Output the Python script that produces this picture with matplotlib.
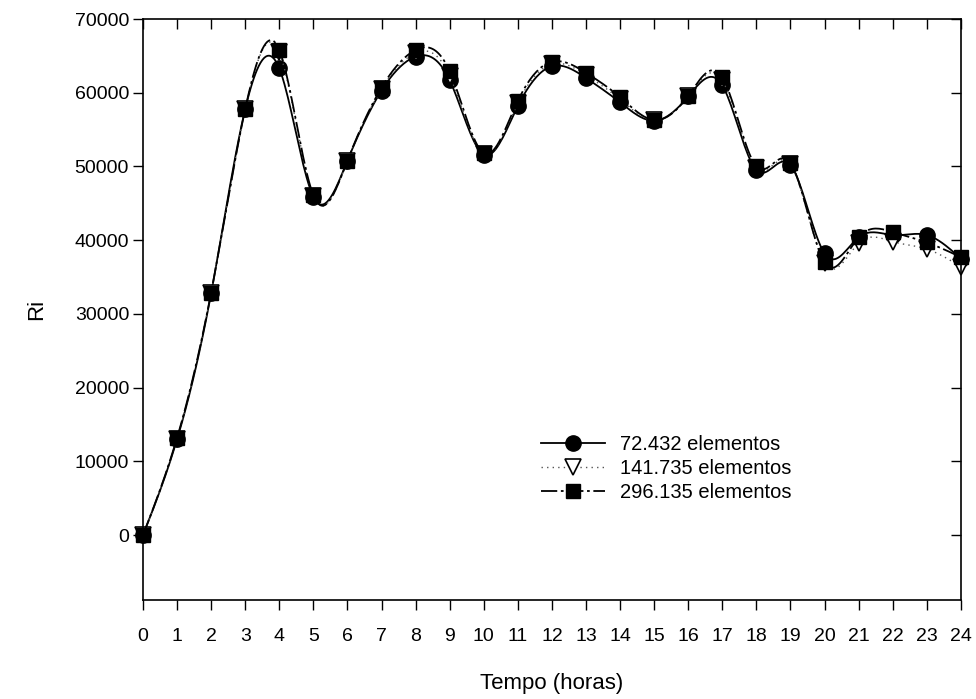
"""
# Ri ao longo do tempo para tres malhas (72.432, 141.735 e 296.135 elementos)
"""

### Packages
import numpy as np
import matplotlib
matplotlib.use("Agg")
import matplotlib.pyplot as plt

### Data
horas = list(range(25))
ri_72432 = [0, 13000, 32800, 57800, 63300, 45900, 50800, 60300, 64900, 61700,
            51600, 58200, 63600, 62000, 58700, 56200, 59500, 61000, 49500, 50200,
            38200, 40400, 40700, 40700, 37500]
ri_141735 = [0, 13100, 32850, 57800, 65500, 46000, 50800, 60500, 65400, 62300,
             51700, 58600, 63900, 62400, 59100, 56250, 59550, 61700, 49800, 50300,
             36900, 39600, 39800, 38800, 36400]
ri_296135 = [0, 13200, 32900, 57800, 65800, 46100, 50800, 60700, 65800, 62900,
             51800, 58900, 64200, 62700, 59400, 56300, 59600, 62100, 50000, 50500,
             37000, 40400, 41100, 39700, 37700]
legendas = ["72.432 elementos", "141.735 elementos", "296.135 elementos"]

### Functions
# Natural cubic spline through the points, evaluated on x_new
def spline_natural(x, y, x_new):
    x = np.asarray(x, float)
    y = np.asarray(y, float)
    n = len(x)
    h = np.diff(x)
    A = np.zeros((n, n))
    b = np.zeros(n)
    A[0, 0] = 1
    A[-1, -1] = 1
    for i in range(1, n - 1):
        A[i, i - 1] = h[i - 1]
        A[i, i] = 2 * (h[i - 1] + h[i])
        A[i, i + 1] = h[i]
        b[i] = 6 * ((y[i + 1] - y[i]) / h[i] - (y[i] - y[i - 1]) / h[i - 1])
    m = np.linalg.solve(A, b)
    idx = np.clip(np.searchsorted(x, x_new) - 1, 0, n - 2)
    t = x_new - x[idx]
    hi = h[idx]
    a = (m[idx + 1] - m[idx]) / (6 * hi)
    c = (y[idx + 1] - y[idx]) / hi - hi * (2 * m[idx] + m[idx + 1]) / 6
    return y[idx] + c * t + m[idx] / 2 * t ** 2 + a * t ** 3

### Plot
plt.rcParams['font.family'] = ['Liberation Sans', 'DejaVu Sans']
fig = plt.figure(figsize=(9.76, 6.99), dpi=100)
ax = fig.add_axes([0.1465, 0.1416, 0.838, 0.8312])

passo = 20
x_denso = np.linspace(horas[0], horas[-1], (len(horas) - 1) * passo + 1)
marcas = list(range(0, len(x_denso), passo))

estilos = [
    dict(linestyle='-', color='black', lw=1.3, marker='o', mfc='black', mec='black', ms=11),
    dict(linestyle=(0, (1, 3)), color='#555555', lw=1.0, marker='v', mfc='white', mec='black', ms=12, mew=1.2),
    dict(linestyle=(0, (9, 2, 1.5, 2)), color='black', lw=1.3, marker='s', mfc='black', mec='black', ms=10.5),
]
for serie, rotulo, est in zip([ri_72432, ri_141735, ri_296135], legendas, estilos):
    ax.plot(x_denso, spline_natural(horas, serie, x_denso), markevery=marcas,
            label=rotulo, clip_on=False, **est)

ax.set_xlim(0, 24)
ax.set_ylim(-8800, 70000)
ax.set_xticks(horas)
ax.set_yticks(range(0, 70001, 10000))
ax.tick_params(axis='both', labelsize=14, length=7, width=1)
ax.tick_params(axis='x', top=True, pad=13)
ax.tick_params(axis='y', right=True, pad=3)
# ticks point out on bottom/left and in on top/right
for t in ax.xaxis.get_major_ticks():
    t.tick2line.set_marker(3)
    t.tick1line.set_marker(3)
for t in ax.yaxis.get_major_ticks():
    t.tick2line.set_marker(0)
    t.tick1line.set_marker(0)
for s in ax.spines.values():
    s.set_linewidth(1.2)

ax.set_xlabel("Tempo (horas)", fontsize=16, labelpad=20)
ax.set_ylabel("Ri", fontsize=16, labelpad=20)

ax.legend(loc='center left', bbox_to_anchor=(0.464, 0.227), frameon=False, fontsize=14.5,
          numpoints=1, handlelength=3.2, handletextpad=0.75, labelspacing=0.25)

plt.savefig("out.png", dpi=100)
